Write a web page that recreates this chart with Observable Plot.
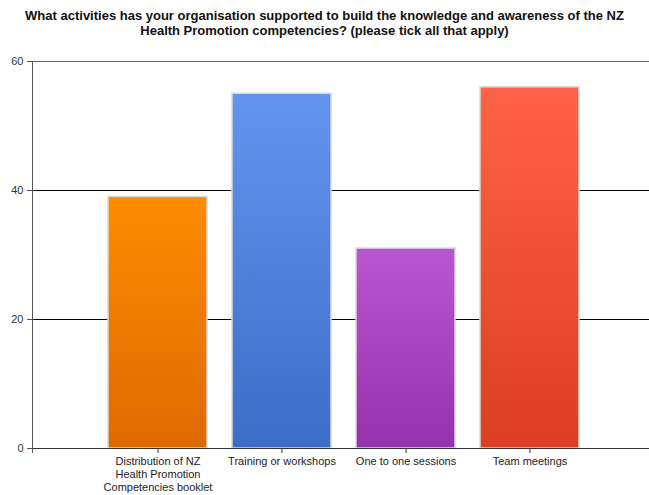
<!DOCTYPE html>
<html>
<head>
<meta charset="utf-8">
<script src="https://cdn.jsdelivr.net/npm/d3@7"></script>
<script src="https://cdn.jsdelivr.net/npm/@observablehq/plot@0.6"></script>
<style>
  html, body { margin: 0; padding: 0; background: #fff; }
  #title { width: 649px; height: 45px; box-sizing: border-box; padding-top: 8px;
    font: bold 13px "Liberation Sans", Arial, sans-serif; line-height: 15px; text-align: center; color: #111; }
  #chart svg { display: block; }
</style>
</head>
<body>
<div id="title">What activities has your organisation supported to build the knowledge and awareness of the NZ<br>Health Promotion competencies? (please tick all that apply)</div>
<div id="chart"></div>
<script>
const categories = [
  "Distribution of NZ Health Promotion Competencies booklet",
  "Training or workshops",
  "One to one sessions",
  "Team meetings"
];
const tickLabels = [
  "Distribution of NZ\nHealth Promotion\nCompetencies booklet",
  "Training or workshops",
  "One to one sessions",
  "Team meetings"
];
const values = [39, 55, 31, 56];
const yTicks = [0, 20, 40, 60];
const topColors = ["#FF8C00", "#6495ED", "#BA55D3", "#FF6347"];
const bottomColors = ["#DD6A00", "#3D6DC7", "#9432AE", "#DA3F22"];

const data = categories.map((c, i) => ({category: c, value: values[i], i}));

function defs() {
  const d = d3.create("svg:defs");
  topColors.forEach((c, i) => {
    const g = d.append("linearGradient").attr("id", "grad" + i)
      .attr("x1", 0).attr("y1", 0).attr("x2", 0).attr("y2", 1);
    g.append("stop").attr("offset", "0%").attr("stop-color", c);
    g.append("stop").attr("offset", "100%").attr("stop-color", bottomColors[i]);
  });
  return d.node();
}

// small extension of the y-axis line below the baseline, like the x-axis ticks
function axisFoot(index, scales, values, dims) {
  const x = dims.marginLeft + 0.5;
  const y0 = dims.height - dims.marginBottom;
  return d3.create("svg:line")
    .attr("x1", x).attr("x2", x).attr("y1", y0).attr("y2", y0 + 5)
    .attr("stroke", "#555").node();
}

const chart = Plot.plot({
  width: 649,
  height: 450,
  marginLeft: 32,
  marginRight: 0,
  marginTop: 16,
  marginBottom: 47,
  style: {fontFamily: "'Liberation Sans', Arial, sans-serif", fontSize: "11px", color: "#333", background: "white"},
  x: {domain: categories, range: [107.1, 580.9], paddingInner: 0.2, paddingOuter: 0, label: null},
  y: {domain: [0, 60], label: null},
  color: {type: "identity"},
  marks: [
    defs,
    Plot.ruleY([20, 40], {stroke: "#000"}),
    Plot.ruleY([60], {stroke: "#666"}),
    Plot.barY(data, {x: "category", y: "value", fill: d => `url(#grad${d.i})`, stroke: "#d9d9d9", strokeWidth: 1.5}),
    Plot.ruleY([0], {stroke: "#333"}),
    Plot.frame({anchor: "left", stroke: "#555"}),
    axisFoot,
    Plot.axisY({ticks: yTicks, tickSize: 5, tickPadding: 4, stroke: "#555", fill: "#333", fontSize: 11, label: null}),
    Plot.axisX({tickSize: 5, tickPadding: 3, stroke: "#333", fill: "#222", fontSize: 11, lineHeight: 1.15,
      tickFormat: d => tickLabels[categories.indexOf(d)], label: null})
  ]
});
document.getElementById("chart").appendChild(chart);
</script>
</body>
</html>
